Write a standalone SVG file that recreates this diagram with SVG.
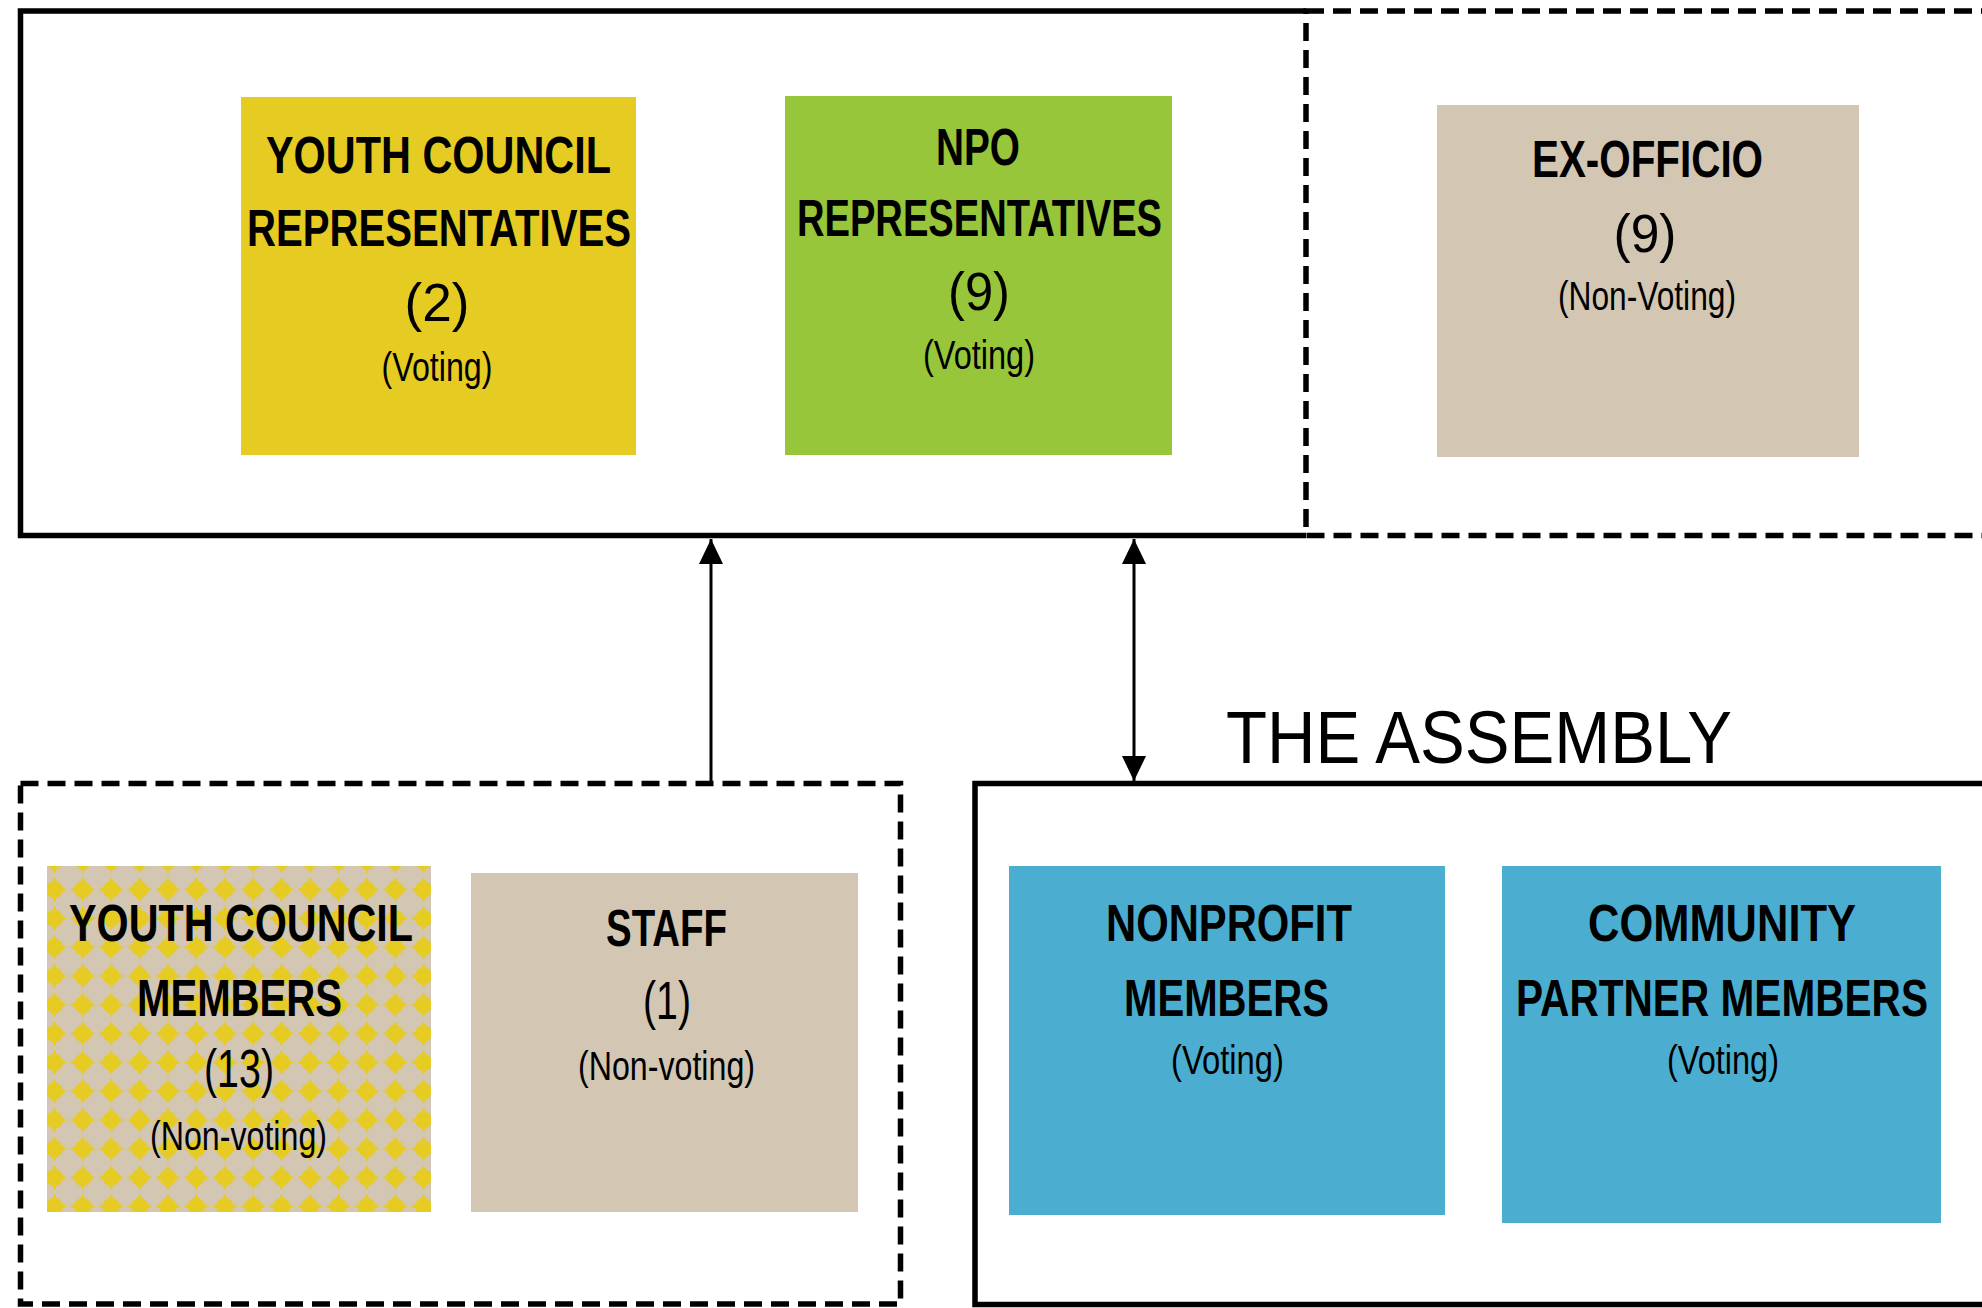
<svg xmlns="http://www.w3.org/2000/svg" width="1982" height="1308" viewBox="0 0 1982 1308">
  <style>
    .frame { fill: none; stroke: #000; stroke-width: 5.5; }
    .dash { stroke-dasharray: 18 9; }
    .b { font-family: "Liberation Sans", Arial, sans-serif; font-weight: 700; font-size: 52px; text-anchor: middle; fill: #000; }
    .n { font-family: "Liberation Sans", Arial, sans-serif; font-weight: 400; font-size: 53px; text-anchor: middle; fill: #000; }
    .s { font-family: "Liberation Sans", Arial, sans-serif; font-weight: 400; font-size: 41px; text-anchor: middle; fill: #000; }
    .title { font-family: "Liberation Sans", Arial, sans-serif; font-weight: 400; font-size: 75px; fill: #000; }
    .conn { stroke: #000; stroke-width: 3; fill: none; }
  </style>
  <defs>
    <marker id="arrow" markerUnits="userSpaceOnUse" markerWidth="26" markerHeight="26" viewBox="0 0 26 26" refX="25" refY="13" orient="auto-start-reverse">
      <path d="M0,1 L25,13 L0,25 Z" fill="#000"/>
    </marker>
    <pattern id="stars" patternUnits="userSpaceOnUse" x="40.2" y="846.4" width="28.4" height="28.8">
      <rect width="28.4" height="28.8" fill="#D3C7B3"/>
      <g transform="translate(14.2 14.4)" fill="#E6CB22">
        <circle r="8.6"/>
        <polygon points="13,0 4,4 0,13 -4,4 -13,0 -4,-4 0,-13 4,-4"/>
      </g>
    </pattern>
  </defs>
  <rect width="1982" height="1308" fill="#fff"/>

  <g id="board-frame">
    <path class="frame" d="M1306,11 H20.5 V535.5 H1306"/>
  </g>
  <g id="exofficio-frame">
    <rect class="frame dash" x="1306" y="11" width="800" height="524.5"/>
  </g>
  <g id="staff-frame">
    <rect class="frame dash" x="20.5" y="783.5" width="880" height="520.5"/>
  </g>
  <g id="assembly-frame">
    <rect class="frame" x="975" y="783.5" width="1100" height="521"/>
    <text class="title" x="1226" y="763" textLength="506" lengthAdjust="spacingAndGlyphs">THE ASSEMBLY</text>
  </g>

  <g id="youth-council-reps">
    <rect x="241" y="97" width="395" height="358" fill="#E5CB22"/>
    <text class="b" x="438.5" y="173" textLength="345" lengthAdjust="spacingAndGlyphs">YOUTH COUNCIL</text>
    <text class="b" x="439" y="246" textLength="384" lengthAdjust="spacingAndGlyphs">REPRESENTATIVES</text>
    <text class="n" x="437" y="321" textLength="65" lengthAdjust="spacingAndGlyphs">(2)</text>
    <text class="s" x="437" y="381" textLength="111" lengthAdjust="spacingAndGlyphs">(Voting)</text>
  </g>

  <g id="npo-reps">
    <rect x="785" y="96" width="387" height="359" fill="#97C63A"/>
    <text class="b" x="978" y="165" textLength="84" lengthAdjust="spacingAndGlyphs">NPO</text>
    <text class="b" x="979.5" y="236" textLength="365" lengthAdjust="spacingAndGlyphs">REPRESENTATIVES</text>
    <text class="n" x="979" y="310" textLength="62" lengthAdjust="spacingAndGlyphs">(9)</text>
    <text class="s" x="979" y="369" textLength="112" lengthAdjust="spacingAndGlyphs">(Voting)</text>
  </g>

  <g id="ex-officio">
    <rect x="1437" y="105" width="422" height="352" fill="#D3C7B3"/>
    <text class="b" x="1647.5" y="177" textLength="231" lengthAdjust="spacingAndGlyphs">EX-OFFICIO</text>
    <text class="n" x="1645" y="252" textLength="63" lengthAdjust="spacingAndGlyphs">(9)</text>
    <text class="s" x="1647" y="310" textLength="178" lengthAdjust="spacingAndGlyphs">(Non-Voting)</text>
  </g>

  <g id="youth-council-members">
    <rect x="47" y="866" width="384" height="346" fill="url(#stars)"/>
    <text class="b" x="241" y="941" textLength="344" lengthAdjust="spacingAndGlyphs">YOUTH COUNCIL</text>
    <text class="b" x="239.5" y="1016" textLength="205" lengthAdjust="spacingAndGlyphs">MEMBERS</text>
    <text class="n" x="239" y="1087" textLength="70" lengthAdjust="spacingAndGlyphs">(13)</text>
    <text class="s" x="238.5" y="1150" textLength="177" lengthAdjust="spacingAndGlyphs">(Non-voting)</text>
  </g>

  <g id="staff">
    <rect x="471" y="873" width="387" height="339" fill="#D3C7B3"/>
    <text class="b" x="666.5" y="946" textLength="121" lengthAdjust="spacingAndGlyphs">STAFF</text>
    <text class="n" x="667" y="1019" textLength="48" lengthAdjust="spacingAndGlyphs">(1)</text>
    <text class="s" x="666.5" y="1080" textLength="177" lengthAdjust="spacingAndGlyphs">(Non-voting)</text>
  </g>

  <g id="nonprofit-members">
    <rect x="1009" y="866" width="436" height="349" fill="#4BAED0"/>
    <text class="b" x="1229" y="941" textLength="246" lengthAdjust="spacingAndGlyphs">NONPROFIT</text>
    <text class="b" x="1226.5" y="1016" textLength="205" lengthAdjust="spacingAndGlyphs">MEMBERS</text>
    <text class="s" x="1227.5" y="1074" textLength="113" lengthAdjust="spacingAndGlyphs">(Voting)</text>
  </g>

  <g id="community-partner-members">
    <rect x="1502" y="866" width="439" height="357" fill="#4BAED0"/>
    <text class="b" x="1722" y="941" textLength="268" lengthAdjust="spacingAndGlyphs">COMMUNITY</text>
    <text class="b" x="1722" y="1016" textLength="412" lengthAdjust="spacingAndGlyphs">PARTNER MEMBERS</text>
    <text class="s" x="1723" y="1074" textLength="112" lengthAdjust="spacingAndGlyphs">(Voting)</text>
  </g>

  <g id="connectors">
    <line class="conn" x1="711" y1="783" x2="711" y2="539" marker-end="url(#arrow)"/>
    <line class="conn" x1="1134" y1="539" x2="1134" y2="781" marker-start="url(#arrow)" marker-end="url(#arrow)"/>
  </g>
</svg>
